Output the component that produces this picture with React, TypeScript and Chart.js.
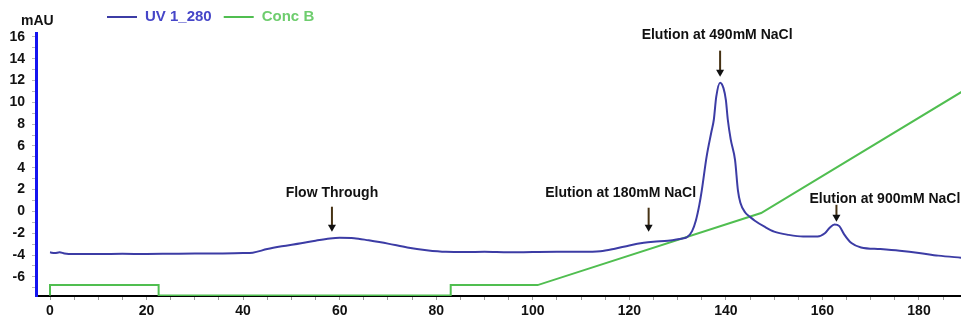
import React, { useEffect, useRef } from "react";
import { Chart, registerables } from "chart.js";
Chart.register(...registerables);

// ---- data ----
const uvX = [0, 1, 2, 3, 5, 10, 15, 20, 25, 30, 35, 40, 42, 45, 48, 52, 55, 58, 60, 63, 66, 70, 74, 78, 82, 86, 90, 95, 100, 105, 110, 114, 117, 120, 123, 125, 128, 131, 132, 133, 133.8, 134.5, 135, 136, 137, 137.5, 138, 138.8, 139.5, 140, 140.4, 141, 141.9, 142.5, 143, 144, 145, 146, 148, 150, 153, 156, 159, 160.5, 161.5, 162.5, 163.5, 164.5, 166, 168, 172, 176, 180, 184, 189];
const uvY = [-3.75, -3.82, -3.74, -3.85, -3.9, -3.9, -3.88, -3.9, -3.88, -3.86, -3.85, -3.82, -3.78, -3.45, -3.2, -2.92, -2.68, -2.48, -2.42, -2.45, -2.65, -2.95, -3.3, -3.55, -3.7, -3.72, -3.7, -3.75, -3.72, -3.7, -3.7, -3.65, -3.42, -3.12, -2.88, -2.78, -2.68, -2.48, -2.35, -1.8, -0.8, 0.6, 1.9, 5.0, 7.3, 8.4, 10.5, 11.8, 11.3, 10.2, 8.4, 6.6, 4.7, 1.9, 0.8, -0.1, -0.5, -0.85, -1.4, -1.85, -2.15, -2.3, -2.3, -2.0, -1.5, -1.2, -1.35, -2.1, -2.9, -3.3, -3.45, -3.6, -3.8, -4.05, -4.25];
const concX = [0, 0, 22.5, 22.5, 83, 83, 101, 147.3, 189];
const concY = [-7.7, -6.75, -6.75, -7.7, -7.7, -6.75, -6.75, -0.15, 11.0];
const seriesNames = ["UV 1_280", "Conc B"];
const xTickLabels = [0, 20, 40, 60, 80, 100, 120, 140, 160, 180];
const yTickLabels = [-6, -4, -2, 0, 2, 4, 6, 8, 10, 12, 14, 16];
const yUnit = "mAU";
const annotationTexts = ["Flow Through", "Elution at 180mM NaCl", "Elution at 490mM NaCl", "Elution at 900mM NaCl"];
const annotationX = [58.4, 124.0, 138.8, 162.9];
const annotationTipY = [-1.86, -1.86, 12.35, -0.95];

// ---- layout / style (not data) ----
const annotationLayout = [
  { arrowLen: 25, dx: 0, dy: 14, align: "center" },
  { arrowLen: 24, dx: -28, dy: 15, align: "center" },
  { arrowLen: 26, dx: -3, dy: 16, align: "center" },
  { arrowLen: 17, dx: -27, dy: 6, align: "left" },
];
const UV_COLOR = "rgb(60,60,165)";
const CONC_COLOR = "rgb(80,190,80)";
const FONT = "'Liberation Sans', Arial, sans-serif";

const overlayPlugin = {
  id: "overlay",
  afterDatasetsDraw(chart: any) {
    const ctx = chart.ctx;
    const xs = chart.scales.x;
    const ys = chart.scales.y;
    ctx.save();
    // unit label
    ctx.fillStyle = "#111";
    ctx.font = `bold 14px ${FONT}`;
    ctx.textAlign = "left";
    ctx.textBaseline = "middle";
    ctx.fillText(yUnit, 21, 21);
    // legend
    const legendColors = [UV_COLOR, CONC_COLOR];
    const legendTextColors = ["rgb(70,70,200)", "rgb(110,205,110)"];
    let lx = 107;
    ctx.font = `bold 15px ${FONT}`;
    seriesNames.forEach((name, i) => {
      ctx.strokeStyle = legendColors[i];
      ctx.lineWidth = 2;
      ctx.beginPath();
      ctx.moveTo(lx, 17);
      ctx.lineTo(lx + 30, 17);
      ctx.stroke();
      ctx.fillStyle = legendTextColors[i];
      ctx.fillText(name, lx + 38, 17);
      lx += 38 + ctx.measureText(name).width + 12;
    });
    // annotations
    annotationTexts.forEach((t, i) => {
      const L = annotationLayout[i];
      const px = xs.getPixelForValue(annotationX[i]);
      const tip = ys.getPixelForValue(annotationTipY[i]);
      const top = tip - L.arrowLen;
      ctx.strokeStyle = "rgb(70,50,20)";
      ctx.lineWidth = 2;
      ctx.beginPath();
      ctx.moveTo(px, top);
      ctx.lineTo(px, tip - 5);
      ctx.stroke();
      ctx.fillStyle = "#111";
      ctx.beginPath();
      ctx.moveTo(px - 4, tip - 7);
      ctx.lineTo(px + 4, tip - 7);
      ctx.lineTo(px, tip);
      ctx.closePath();
      ctx.fill();
      ctx.font = `bold 14px ${FONT}`;
      ctx.textBaseline = "middle";
      if (L.align === "left") {
        ctx.textAlign = "left";
        ctx.fillText(t, px + L.dx, top - L.dy);
      } else {
        ctx.textAlign = "center";
        ctx.fillText(t, px + L.dx, top - L.dy);
      }
    });
    ctx.restore();
  },
};

export default function App() {
  const ref = useRef<HTMLCanvasElement | null>(null);
  useEffect(() => {
    document.body.style.margin = "0";
    const canvas = ref.current;
    if (!canvas) return;
    const xMinor: number[] = [];
    for (let v = 0; v <= 185; v += 5) xMinor.push(v);
    const yMinor: number[] = [];
    for (let v = -7; v <= 16; v += 1) yMinor.push(v);
    const chart = new Chart(canvas, {
      type: "line",
      data: {
        datasets: [
          {
            label: seriesNames[0],
            data: uvX.map((x, i) => ({ x, y: uvY[i] })),
            borderColor: UV_COLOR,
            borderWidth: 2,
            pointRadius: 0,
            cubicInterpolationMode: "monotone",
          },
          {
            label: seriesNames[1],
            data: concX.map((x, i) => ({ x, y: concY[i] })),
            borderColor: CONC_COLOR,
            borderWidth: 2,
            pointRadius: 0,
            tension: 0,
          },
        ],
      },
      options: {
        animation: false,
        responsive: false,
        maintainAspectRatio: false,
        layout: { padding: { top: 33, left: 0, right: 0, bottom: 0 } },
        plugins: { legend: { display: false }, tooltip: { enabled: false }, title: { display: false } },
        scales: {
          x: {
            type: "linear",
            min: -2.9,
            max: 188.7,
            afterFit: (s: any) => { s.height = 28; },
            afterBuildTicks: (s: any) => { s.ticks = xMinor.map((v) => ({ value: v })); },
            border: { color: "#000", width: 2 },
            grid: { drawOnChartArea: false, drawTicks: true, tickLength: 4, color: "#999" },
            ticks: {
              autoSkip: false,
              maxRotation: 0,
              padding: 3,
              color: "#111",
              font: { family: FONT, size: 14, weight: "bold" },
              callback: (v: any) => (xTickLabels.includes(Number(v)) ? String(v) : ""),
            },
          },
          y: {
            type: "linear",
            min: -7.75,
            max: 16.35,
            afterFit: (s: any) => { s.width = 36; },
            afterBuildTicks: (s: any) => { s.ticks = yMinor.map((v) => ({ value: v })); },
            border: { color: "rgb(20,20,240)", width: 3 },
            grid: { drawOnChartArea: false, drawTicks: true, tickLength: 4, color: "#bbb" },
            ticks: {
              autoSkip: false,
              padding: 7,
              color: "#111",
              font: { family: FONT, size: 14, weight: "bold" },
              callback: (v: any) => (yTickLabels.includes(Number(v)) ? String(v) : ""),
            },
          },
        },
      },
      plugins: [overlayPlugin],
    } as any);
    return () => chart.destroy();
  }, []);
  return (
    <div style={{ position: "fixed", left: 0, top: 0, width: 961, height: 324, background: "#fff" }}>
      <canvas ref={ref} width={961} height={324} style={{ width: 961, height: 324 }} />
    </div>
  );
}
